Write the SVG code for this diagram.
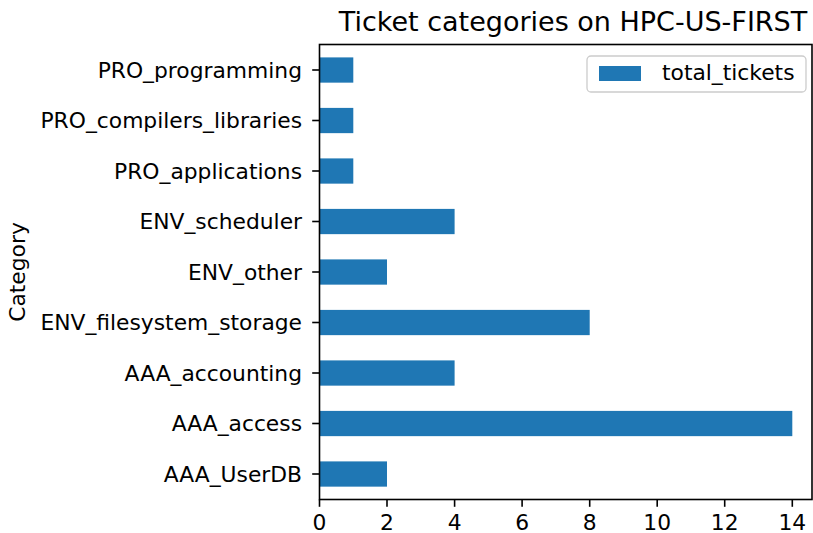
<svg xmlns="http://www.w3.org/2000/svg" width="813" height="533" viewBox="0 0 813 533">
  <style>
    text { font-family: "DejaVu Sans", "Liberation Sans", sans-serif; fill: #000; }
    .lbl { font-size: 21.8px; }
    .ylbl { text-anchor: end; }
    .xlbl { text-anchor: middle; }
    .title { font-size: 27px; text-anchor: middle; }
    .bar { fill: #1f77b4; }
    .spine { stroke: #000; stroke-width: 1.6; fill: none; }
    .tick { stroke: #000; stroke-width: 1.6; }
  </style>

  <rect width="813" height="533" fill="#fff"/>

  <!-- bars: 33.77 px per ticket, zero at x=319.5 -->
  <g id="bars">
    <rect id="bar-AAA_UserDB" class="bar" x="319.5" y="461.4" width="67.5" height="25.25"/>
    <rect id="bar-AAA_access" class="bar" x="319.5" y="410.9" width="472.8" height="25.25"/>
    <rect id="bar-AAA_accounting" class="bar" x="319.5" y="360.4" width="135.1" height="25.25"/>
    <rect id="bar-ENV_filesystem_storage" class="bar" x="319.5" y="309.9" width="270.2" height="25.25"/>
    <rect id="bar-ENV_other" class="bar" x="319.5" y="259.4" width="67.5" height="25.25"/>
    <rect id="bar-ENV_scheduler" class="bar" x="319.5" y="208.9" width="135.1" height="25.25"/>
    <rect id="bar-PRO_applications" class="bar" x="319.5" y="158.4" width="33.8" height="25.25"/>
    <rect id="bar-PRO_compilers_libraries" class="bar" x="319.5" y="107.9" width="33.8" height="25.25"/>
    <rect id="bar-PRO_programming" class="bar" x="319.5" y="57.4" width="33.8" height="25.25"/>
  </g>

  <!-- axes frame -->
  <g id="spines">
    <rect class="spine" x="319.5" y="44.5" width="492.5" height="455"/>
  </g>

  <!-- y axis ticks and labels -->
  <g id="y-axis">
    <g class="tick">
      <line x1="312.2" y1="474" x2="319.5" y2="474"/>
      <line x1="312.2" y1="423.5" x2="319.5" y2="423.5"/>
      <line x1="312.2" y1="373" x2="319.5" y2="373"/>
      <line x1="312.2" y1="322.5" x2="319.5" y2="322.5"/>
      <line x1="312.2" y1="272" x2="319.5" y2="272"/>
      <line x1="312.2" y1="221.5" x2="319.5" y2="221.5"/>
      <line x1="312.2" y1="171" x2="319.5" y2="171"/>
      <line x1="312.2" y1="120.5" x2="319.5" y2="120.5"/>
      <line x1="312.2" y1="70" x2="319.5" y2="70"/>
    </g>
    <text class="lbl ylbl" x="302" y="481.5">AAA_UserDB</text>
    <text class="lbl ylbl" x="302" y="431">AAA_access</text>
    <text class="lbl ylbl" x="302" y="380.5">AAA_accounting</text>
    <text class="lbl ylbl" x="302" y="330">ENV_filesystem_storage</text>
    <text class="lbl ylbl" x="302" y="279.5">ENV_other</text>
    <text class="lbl ylbl" x="302" y="229">ENV_scheduler</text>
    <text class="lbl ylbl" x="302" y="178.5">PRO_applications</text>
    <text class="lbl ylbl" x="302" y="128">PRO_compilers_libraries</text>
    <text class="lbl ylbl" x="302" y="77.5">PRO_programming</text>
    <text class="lbl" x="0" y="0" text-anchor="middle" transform="translate(25 272) rotate(-90)">Category</text>
  </g>

  <!-- x axis ticks and labels -->
  <g id="x-axis">
    <g class="tick">
      <line x1="319.5" y1="499.5" x2="319.5" y2="506.8"/>
      <line x1="387" y1="499.5" x2="387" y2="506.8"/>
      <line x1="454.6" y1="499.5" x2="454.6" y2="506.8"/>
      <line x1="522.1" y1="499.5" x2="522.1" y2="506.8"/>
      <line x1="589.7" y1="499.5" x2="589.7" y2="506.8"/>
      <line x1="657.2" y1="499.5" x2="657.2" y2="506.8"/>
      <line x1="724.7" y1="499.5" x2="724.7" y2="506.8"/>
      <line x1="792.3" y1="499.5" x2="792.3" y2="506.8"/>
    </g>
    <text class="lbl xlbl" x="319.5" y="529.5">0</text>
    <text class="lbl xlbl" x="387" y="529.5">2</text>
    <text class="lbl xlbl" x="454.6" y="529.5">4</text>
    <text class="lbl xlbl" x="522.1" y="529.5">6</text>
    <text class="lbl xlbl" x="589.7" y="529.5">8</text>
    <text class="lbl xlbl" x="657.2" y="529.5">10</text>
    <text class="lbl xlbl" x="724.7" y="529.5">12</text>
    <text class="lbl xlbl" x="792.3" y="529.5">14</text>
  </g>

  <text id="title" class="title" x="573" y="31">Ticket categories on HPC-US-FIRST</text>

  <g id="legend">
    <rect x="587" y="56" width="219" height="36" rx="4" fill="#fff" fill-opacity="0.8" stroke="#cccccc" stroke-width="1.3"/>
    <rect class="bar" x="599" y="66" width="42" height="15"/>
    <text class="lbl" x="662" y="80">total_tickets</text>
  </g>
</svg>
